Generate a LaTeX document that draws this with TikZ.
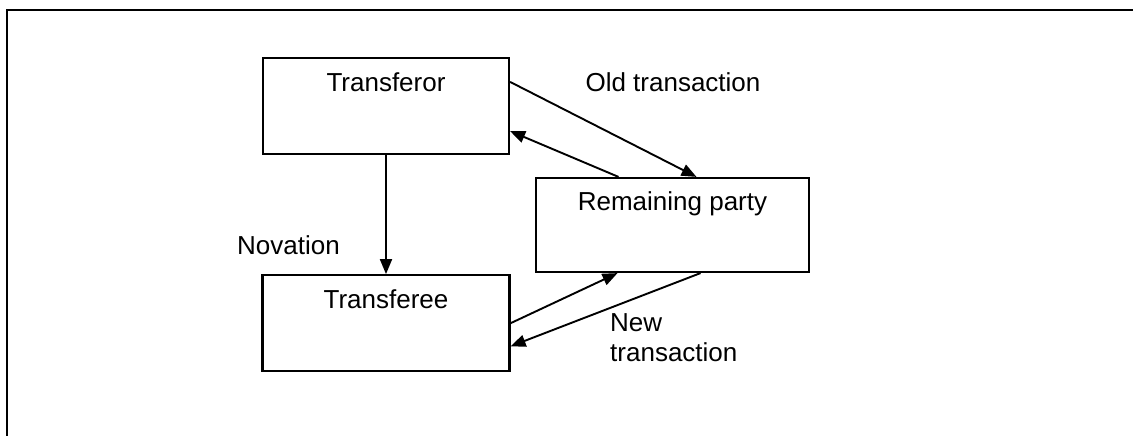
\documentclass[tikz,border=0pt]{standalone}
\usepackage{fontspec}
\setmainfont{Liberation Sans}
\usetikzlibrary{positioning,arrows.meta}

\tikzset{
    party/.style={draw, line width=2.2pt, inner sep=0pt, rectangle},
    partyname/.style={anchor=base, inner sep=0pt, font=\fontsize{26}{30}\selectfont},
    lbl/.style={inner sep=0pt, font=\fontsize{26}{30}\selectfont},
    flow/.style={line width=1.9pt, -{Triangle[length=15pt,width=12pt]}}
}

\begin{document}
\begin{tikzpicture}[x=1pt, y=-1pt]
    \useasboundingbox (0,0) rectangle (1133,436);
    % frame
    \draw[line width=2.2pt] (1133,10) -- (7,10) -- (7,436);

    \node[party, minimum width=246pt, minimum height=96pt,
          label={[partyname, yshift=-35pt]north:Transferor}] (transferor) at (386,106) {};
    \node[party, minimum width=247pt, minimum height=96pt,
          label={[partyname, yshift=-34pt]north:Transferee},
          below=119pt of transferor] (transferee) {};
    \node[party, minimum width=273pt, minimum height=94pt,
          label={[partyname, yshift=-34pt]north:Remaining party}] (remaining) at (672.5,225) {};

    \node[lbl, anchor=base] (oldlbl) at (673,92) {Old transaction};
    \node[lbl, anchor=base west] (novlbl) at (237,254) {Novation};
    \node[lbl, anchor=north west, align=left] (newlbl) at (610,313) {New\\transaction};

    \draw[flow] ([yshift=-25pt]transferor.north east) -- ([xshift=24pt]remaining.north);
    \draw[flow] ([xshift=-54pt]remaining.north) -- ([yshift=24pt]transferor.south east);
    \draw[flow] (transferor.south) -- (transferee.north);
    \draw[flow] (transferee.east) -- ([xshift=-55pt]remaining.south);
    \draw[flow] ([xshift=28pt]remaining.south) -- ([yshift=26pt]transferee.south east);
\end{tikzpicture}
\end{document}
